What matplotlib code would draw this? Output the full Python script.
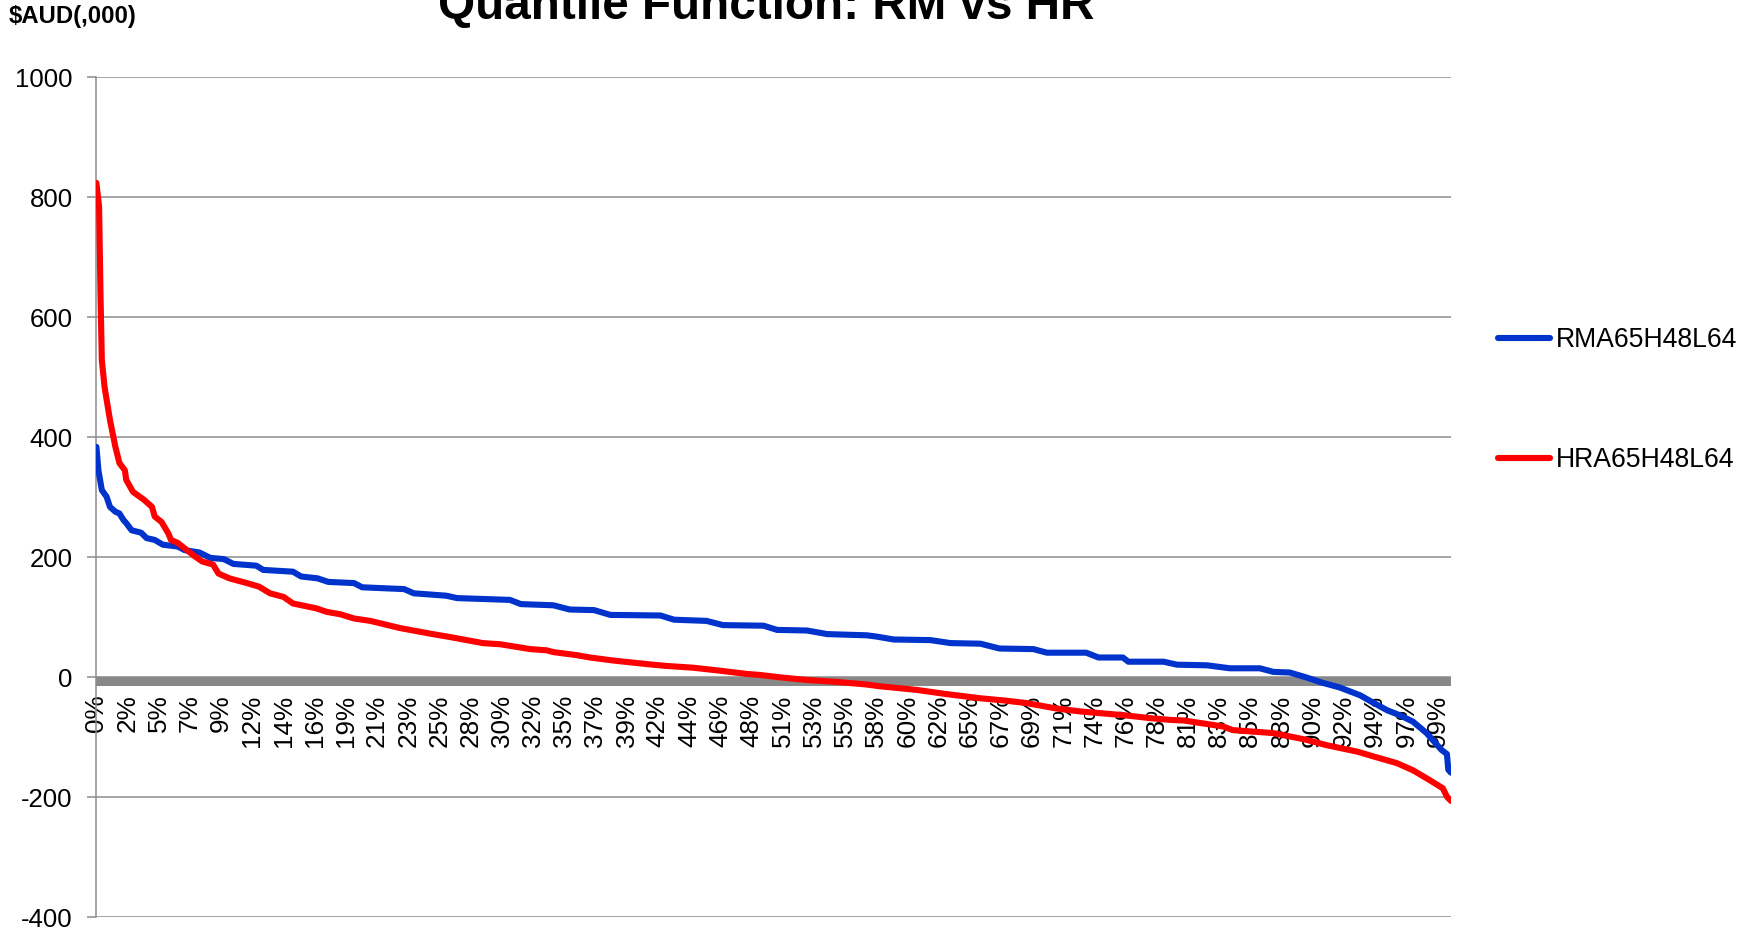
import numpy as np
import matplotlib
matplotlib.use("Agg")
import matplotlib.pyplot as plt

plt.rcParams['font.family'] = ['Liberation Sans', 'DejaVu Sans']
plt.rcParams['axes.unicode_minus'] = False

# Ordered outcomes (1000 simulated results, sorted high to low), $AUD thousands
n_outcomes = 1000

rm_rank = [0, 1.5, 4, 7.5, 10, 14, 17, 20, 22, 26, 33, 37, 43, 49, 60, 65, 76, 84, 94,
           101, 118, 123, 145, 151, 163, 171, 190, 196, 227, 234, 258, 266, 305, 313,
           337, 349, 367, 379, 416, 426, 450, 462, 492, 502, 524, 539, 568, 575, 588,
           615, 630, 652, 666, 691, 701, 730, 739, 757, 761, 787, 797, 819, 836, 858,
           868, 880, 892, 904, 917, 932, 939, 952, 961, 971, 981, 992, 996, 997, 999]
rm_value = [384, 345, 312, 301, 284, 276, 273, 262, 257, 245, 241, 232, 229, 221, 218, 212,
            208, 199, 197, 189, 186, 179, 176, 168, 165, 159, 157, 150, 147, 140, 136, 132,
            129, 122, 120, 113, 112, 104, 103, 96, 94, 87, 86, 79, 78, 72, 70, 68, 63, 62,
            57, 56, 48, 47, 41, 41, 33, 33, 26, 26, 21, 20, 15, 15, 9, 8, 0, -9, -17, -30,
            -39, -55, -63, -74, -93, -121, -128, -154, -159]

hr_rank = [0, 2, 3, 4, 6, 10, 14, 17, 21, 22, 27, 35, 41, 43, 48, 53, 55, 60, 65, 73, 78,
           86, 90, 98, 111, 120, 128, 138, 145, 162, 170, 180, 190, 202, 224, 248, 261,
           285, 298, 320, 332, 337, 354, 364, 381, 406, 420, 440, 460, 480, 489, 504, 524,
           548, 568, 578, 605, 627, 652, 671, 686, 708, 726, 757, 777, 792, 802, 831, 838,
           868, 892, 907, 930, 942, 959, 971, 983, 993, 996, 999]
hr_value = [824, 784, 640, 529, 484, 429, 384, 357, 345, 329, 309, 296, 284, 268, 259, 240,
            229, 224, 215, 201, 193, 188, 173, 165, 157, 151, 140, 134, 123, 115, 109, 105,
            98, 94, 82, 72, 67, 57, 55, 47, 45, 42, 37, 33, 28, 22, 19, 16, 11, 5.5, 4, 0,
            -4.5, -8, -12, -15, -21, -28, -35, -39, -43, -52, -57, -63, -68, -71, -72, -82,
            -88, -93, -104, -113, -124, -132, -143, -155, -171, -185, -199, -206]

pct_labels = ["0%", "2%", "5%", "7%", "9%", "12%", "14%", "16%", "19%", "21%", "23%",
              "25%", "28%", "30%", "32%", "35%", "37%", "39%", "42%", "44%", "46%", "48%",
              "51%", "53%", "55%", "58%", "60%", "62%", "65%", "67%", "69%", "71%", "74%",
              "76%", "78%", "81%", "83%", "85%", "88%", "90%", "92%", "94%", "97%", "99%"]
label_every = 23

series_names = ["RMA65H48L64", "HRA65H48L64"]
series_colors = ["#0033CC", "#FF0000"]

fig = plt.figure(figsize=(17.38, 9.30), dpi=100)
ax = fig.add_axes([96.4 / 1738, 12.7 / 930, (1451 - 96.4) / 1738, 840 / 930])

grid_col = "#8c8c8c"
ax.set_ylim(-400, 1000)
ax.set_xlim(0, n_outcomes - 1)
ax.set_yticks(np.arange(-400, 1001, 200))
ax.yaxis.grid(True, color=grid_col, lw=1.1)
ax.set_axisbelow(True)

# thick category axis sitting at zero
ax.axhspan(-13.8, 0, color="#888888", lw=0, zorder=1.5)

for rank, val, name, col in [(rm_rank, rm_value, series_names[0], series_colors[0]),
                             (hr_rank, hr_value, series_names[1], series_colors[1])]:
    ax.plot(rank, val, color=col, lw=4.4, label=name, zorder=3,
            solid_capstyle="round", solid_joinstyle="round")

for side in ["top", "right"]:
    ax.spines[side].set_visible(False)
ax.spines["bottom"].set_position(("data", 0))
ax.spines["bottom"].set_color("none")
ax.spines["left"].set_color(grid_col)
ax.spines["left"].set_linewidth(1.1)

ax.set_xticks(np.arange(len(pct_labels)) * label_every)
ax.set_xticklabels(pct_labels, rotation=90)
ax.tick_params(axis="x", length=0, pad=12.5, labelsize=18.8)
ax.tick_params(axis="y", length=6.5, width=1.1, color=grid_col, labelsize=18.5, pad=10.5)

fig.text(766 / 1738, 1 - 19 / 930, "Quantile Function: RM vs HR", ha="center",
         va="baseline", fontsize=34.3, fontweight="bold")
fig.text(9 / 1738, 1 - 17 / 930, r"\$AUD(,000)", ha="left", va="center",
         fontsize=17.2, fontweight="bold")

ax.legend(loc="upper left", bbox_to_anchor=(1498 / 1738, 1 - 327 / 930),
          bbox_transform=fig.transFigure, frameon=False, fontsize=19.2,
          handlelength=1.95, handletextpad=0.22, labelspacing=3.54,
          borderpad=0, borderaxespad=0)

fig.savefig("out.png", dpi=100)
